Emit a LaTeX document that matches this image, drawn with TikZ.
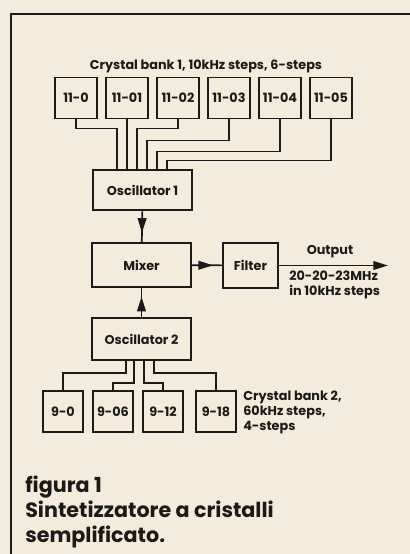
\documentclass[tikz,border=0pt]{standalone}
\usepackage{fontspec}
\setmainfont{Poppins}
\usetikzlibrary{arrows.meta, positioning, decorations.markings}
\definecolor{paper}{HTML}{F3EBDC}
\definecolor{ink}{HTML}{1C1A18}
\tikzset{
  xtal/.style={
    rectangle, draw=ink, line width=1.4pt, fill=paper,
    minimum width=31.5pt, minimum height=30.75pt, inner sep=0.5pt,
    font=\fontsize{9.6}{11}\selectfont\bfseries, text=ink,
  },
  stage/.style={
    xtal, minimum width=74.25pt, minimum height=30.5pt,
  },
  wire/.style={draw=ink, line width=1.3pt, line join=miter},
  midarrow/.style={wire, postaction={decorate}, decoration={markings,
    mark=at position 0.7 with {\arrow{Triangle[length=11pt,width=6.5pt]}}}},
  arrow/.style={wire, -{Triangle[length=11pt,width=6.5pt]}},
  note/.style={font=\fontsize{9.6}{11.25}\selectfont\bfseries, text=ink},
  caption/.style={font=\fontsize{15.5}{18.75}\selectfont\bfseries, text=ink,
    align=left, inner sep=0pt},
}
\begin{document}
\begin{tikzpicture}[x=0.75pt, y=-0.75pt]
  \useasboundingbox (0,0) rectangle (410,554);
  \fill[paper] (0,0) rectangle (410,554);

  % frame of the figure
  \draw[ink, line width=1.2pt] (410,14) -- (11,14) -- (11,554);

  % Crystal bank 1
  \node[note] (bank1) at (206,66) {Crystal bank 1, 10kHz steps, 6-steps};
  \foreach \i/\lbl in {1/11-0, 2/11-01, 3/11-02, 4/11-03, 5/11-04, 6/11-05}
    \node[xtal] (b\i) at ({76+51*(\i-1)},98) {\lbl};

  % main chain
  \node[stage] (osc1)  at (142.5,190) {Oscillator 1};
  \node[stage, minimum height=33pt] (mixer) at (141.5,265) {Mixer};
  \node[xtal, minimum width=41.25pt, minimum height=33.75pt] (filter) at (250.5,265.5) {Filter};
  \node[stage, minimum height=31.5pt] (osc2)  at (141.5,339) {Oscillator 2};

  % Crystal bank 2
  \foreach \i/\lbl/\x in {1/9-0/63, 2/9-06/113, 3/9-12/163, 4/9-18/216}
    \node[xtal, minimum width=30pt] (c\i) at (\x,411.5) {\lbl};
  \node[note, align=left, anchor=north west, inner sep=0pt] (bank2) at (243,391)
    {Crystal bank 2,\\60kHz steps,\\4-steps};

  % bank 1 to oscillator 1
  \foreach \i/\dx/\dy in {1/-25.5/9, 2/-15.5/0, 3/-5.5/9, 4/4.5/21, 5/14.5/32, 6/24.5/41}
    \draw[wire] (b\i.south) -- ++(0,\dy) -| ([shift={(\dx,0)}]osc1.north);

  % oscillator 2 to bank 2
  \foreach \i/\dx/\dy in {1/-15.5/12, 2/-7.5/22, 3/2.5/22, 4/12.5/12}
    \draw[wire] ([shift={(\dx,0)}]osc2.south) -- ++(0,\dy) -| (c\i.north);

  % signal path
  \draw[midarrow] (osc1) -- (mixer);
  \draw[midarrow] (osc2) -- (mixer);
  \draw[midarrow] (mixer) -- (filter);
  \coordinate (out) at (388,265.5);
  \draw[arrow] (filter) -- (out);
  \node[note] (outlbl) at (330,252) {Output};
  \node[note, align=left, anchor=west, inner sep=0pt] (range) at (289,285)
    {20-20-23MHz\\in 10kHz steps};

  % caption
  \node[caption, anchor=north west] (fig) at (25,476)
    {figura 1\\Sintetizzatore a cristalli\\semplificato.};
\end{tikzpicture}
\end{document}
